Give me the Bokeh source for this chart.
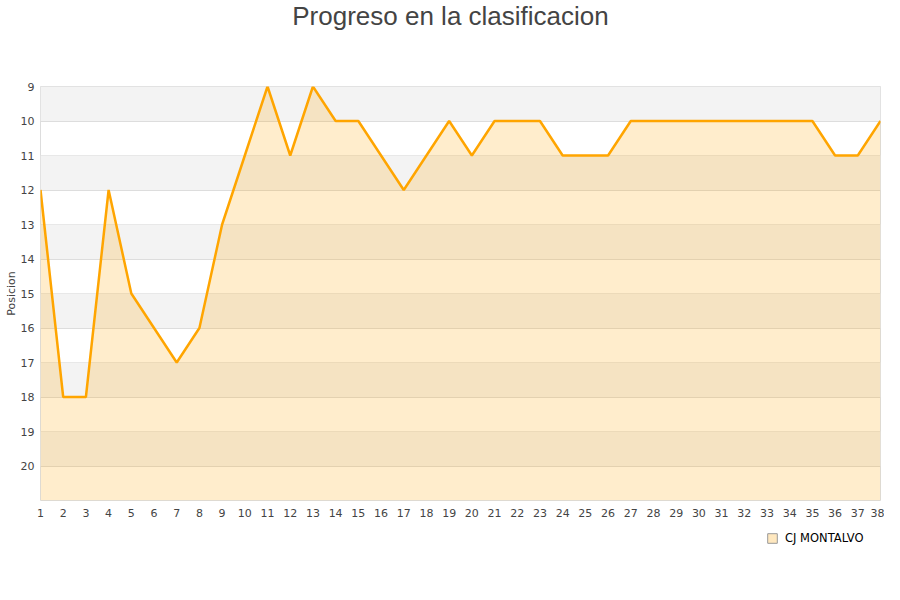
from bokeh.plotting import figure
from bokeh.models import Range1d, FixedTicker, Legend, LegendItem, BoxAnnotation
from bokeh.core.properties import value
from bokeh.layouts import column
from bokeh.embed import file_html
from bokeh.resources import INLINE

jornadas = list(range(1, 39))
posiciones = [12, 18, 18, 12, 15, 16, 17, 16, 13, 11, 9, 11, 9, 10, 10, 11, 12, 11, 10, 11,
              10, 10, 10, 11, 11, 11, 10, 10, 10, 10, 10, 10, 10, 10, 10, 11, 11, 10]
y_ticks = list(range(9, 21))
equipo = "CJ MONTALVO"
titulo = "Progreso en la clasificacion"

# title strip
tf = figure(width=884, height=30, output_backend="svg", toolbar_location=None,
            x_range=Range1d(0, 840), y_range=Range1d(0, 30), min_border=0)
tf.axis.visible = False
tf.grid.visible = False
tf.outline_line_color = None
tf.text(x=[410], y=[15], text=[titulo], text_align="center", text_baseline="middle",
        text_font=value("Liberation Sans"), text_font_size="26px", text_color="#444444")

p = figure(width=884, height=500, output_backend="svg", toolbar_location=None,
           frame_width=840, frame_height=414,
           x_range=Range1d(1, 38), y_range=Range1d(21, 9),
           min_border_left=40, min_border_top=56, min_border_right=4, min_border_bottom=30)

p.background_fill_color = "white"
p.outline_line_color = "#dddddd"

for b in range(9, 21, 2):
    p.add_layout(BoxAnnotation(top=b, bottom=b + 1, fill_color="#f3f3f3", fill_alpha=1, line_alpha=0, level="underlay"))

area = p.varea(x=jornadas, y1=posiciones, y2=[21] * len(jornadas), fill_color="orange", fill_alpha=0.2)
p.line(jornadas, posiciones, line_color="orange", line_width=2.5)

p.xaxis.ticker = FixedTicker(ticks=jornadas)
p.yaxis.ticker = FixedTicker(ticks=y_ticks)
for ax in (p.xaxis[0], p.yaxis[0]):
    ax.major_label_text_font = "DejaVu Sans"
    ax.major_label_text_font_size = "11px"
    ax.major_label_text_color = "#444444"
    ax.axis_line_color = None
    ax.major_tick_line_color = None
    ax.minor_tick_line_color = None
    ax.major_tick_out = 0
    ax.major_tick_in = 0
    ax.minor_tick_out = 0
p.yaxis.major_label_standoff = 6
p.xaxis.major_label_standoff = 8
p.yaxis.axis_label = "Posicion"
p.yaxis.axis_label_text_font = "DejaVu Sans"
p.yaxis.axis_label_text_font_size = "11px"
p.yaxis.axis_label_text_font_style = "normal"
p.yaxis.axis_label_text_color = "#444444"
p.yaxis.axis_label_standoff = 0

p.xgrid.grid_line_color = None
p.ygrid.grid_line_color = "#dddddd"
p.ygrid.ticker = FixedTicker(ticks=list(range(9, 22)))

# legend strip (legend glyph only; its data lies outside this strip's ranges)
lf = figure(width=884, height=30, output_backend="svg", toolbar_location=None,
            x_range=Range1d(-100, -50), y_range=Range1d(0, 1), min_border=0)
lf.axis.visible = False
lf.grid.visible = False
lf.outline_line_color = None
marker = lf.quad(left=jornadas, right=jornadas, top=posiciones, bottom=posiciones,
                 fill_color="orange", fill_alpha=0.25, line_color="#999999", line_width=1)
legend = Legend(items=[LegendItem(label=equipo, renderers=[marker])], location=(726, 15),
                orientation="horizontal", background_fill_alpha=0, border_line_alpha=0,
                glyph_width=12, glyph_height=12, label_standoff=7, label_text_font="DejaVu Sans",
                label_text_font_size="11.5px", label_text_color="#000000",
                margin=0, padding=0)
lf.add_layout(legend)

open("out.html", "w").write(file_html(column(tf, p, lf, spacing=0), INLINE))
